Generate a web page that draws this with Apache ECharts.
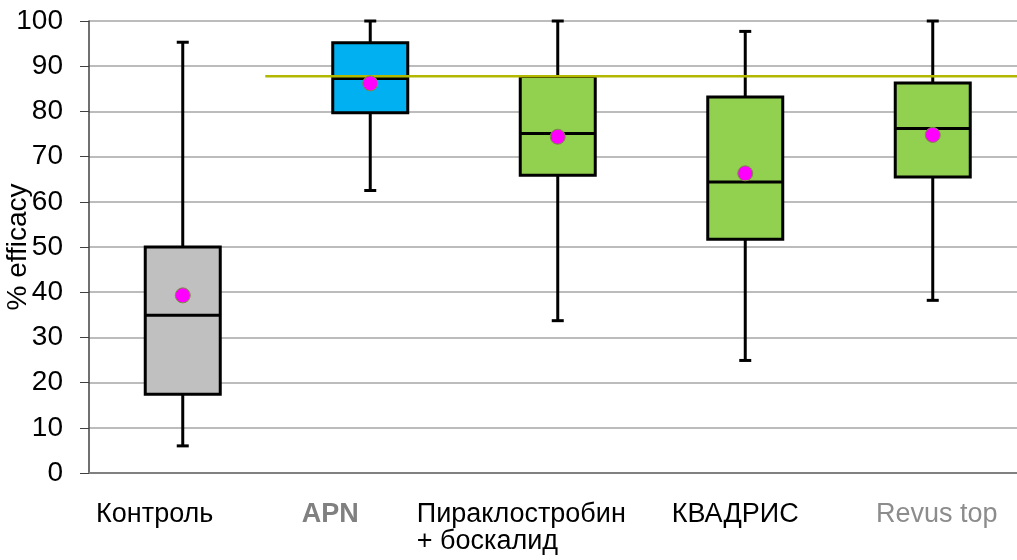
<!DOCTYPE html>
<html>
<head>
<meta charset="utf-8">
<script src="https://cdn.jsdelivr.net/npm/echarts@6/dist/echarts.min.js"></script>
<style>
  html, body { margin: 0; padding: 0; background: #fff; }
  #chart { width: 1017px; height: 560px; }
</style>
</head>
<body>
<div id="chart"></div>
<script>
var categories = ["Контроль", "APN", "Пираклостробин\n+ боскалид", "КВАДРИС", "Revus top"];
var whiskerLow = [6.0, 62.5, 33.7, 24.9, 38.2];
var q1 = [17.4, 79.7, 65.9, 51.7, 65.5];
var median = [34.9, 87.3, 75.1, 64.4, 76.2];
var q3 = [50.0, 95.2, 87.7, 83.2, 86.3];
var whiskerHigh = [95.3, 100, 100, 97.7, 100];
var means = [39.3, 86.2, 74.4, 66.3, 74.8];
var boxColors = ["#c0c0c0", "#00b0f0", "#92d050", "#92d050", "#92d050"];
// reference level, drawn from just left of APN to the right edge
var refLine = [[0.94, 87.8], [5, 87.8]];

// label shifts so they sit where the original ones do
var labelShift = [-28, -40, -38, -10, 4];
var labelColor = ["#000", "#808080", "#000", "#000", "#8c8c8c"];
var labelWeight = ["normal", "bold", "normal", "normal", "normal"];

var rich = {};
categories.forEach(function (c, i) {
  var s = labelShift[i];
  rich["c" + i] = {
    fontSize: 27,
    lineHeight: 27,
    fontFamily: "Liberation Sans",
    color: labelColor[i],
    fontWeight: labelWeight[i],
    padding: s < 0 ? [0, -2 * s, 0, 0] : [0, 0, 0, 2 * s]
  };
});
rich.c2.width = 206;
rich.c2.align = "left";

var boxData = categories.map(function (c, i) {
  return [i, whiskerLow[i], q1[i], median[i], q3[i], whiskerHigh[i]];
});
var meanData = categories.map(function (c, i) {
  return [i, means[i]];
});

function renderBox(params, api) {
  var idx = api.value(0);
  var x = api.coord([idx, 0])[0];
  var band = api.size([1, 0])[0];
  var bw = band * 0.4;
  var cw = band * 0.064;
  var yMin = api.coord([idx, api.value(1)])[1];
  var yQ1 = api.coord([idx, api.value(2)])[1];
  var yMed = api.coord([idx, api.value(3)])[1];
  var yQ3 = api.coord([idx, api.value(4)])[1];
  var yMax = api.coord([idx, api.value(5)])[1];
  var line = { stroke: "#000", lineWidth: 3 };
  return {
    type: "group",
    children: [
      { type: "line", shape: { x1: x, y1: yMin, x2: x, y2: yQ1 }, style: line },
      { type: "line", shape: { x1: x, y1: yQ3, x2: x, y2: yMax }, style: line },
      { type: "line", shape: { x1: x - cw / 2, y1: yMin, x2: x + cw / 2, y2: yMin }, style: line },
      { type: "line", shape: { x1: x - cw / 2, y1: yMax, x2: x + cw / 2, y2: yMax }, style: line },
      {
        type: "rect",
        shape: { x: x - bw / 2, y: yQ3, width: bw, height: yQ1 - yQ3 },
        style: { fill: boxColors[idx], stroke: "#000", lineWidth: 3 }
      },
      { type: "line", shape: { x1: x - bw / 2, y1: yMed, x2: x + bw / 2, y2: yMed }, style: line }
    ]
  };
}

var myChart = echarts.init(document.getElementById("chart"));
var option = {
  animation: false,
  backgroundColor: "#fff",
  grid: {
    left: 89,
    top: 21,
    width: 937.5,
    height: 452,
    containLabel: false,
    outerBoundsMode: "none"
  },
  xAxis: [
    {
      type: "category",
      data: categories,
      axisLine: { lineStyle: { color: "#808080", width: 2 } },
      axisTick: { length: 8, lineStyle: { color: "#404040", width: 1 } },
      axisLabel: {
        margin: 28,
        interval: 0,
        formatter: function (value, index) {
          return value.split("\n").map(function (t) {
            return "{c" + index + "|" + t + "}";
          }).join("\n");
        },
        rich: rich
      },
      splitLine: { show: false }
    },
    {
      type: "value",
      min: 0,
      max: 5,
      show: false
    }
  ],
  yAxis: {
    type: "value",
    min: 0,
    max: 100,
    interval: 10,
    name: "% efficacy",
    nameLocation: "middle",
    nameGap: 57,
    nameMoveOverlap: false,
    nameTextStyle: { fontSize: 28, fontFamily: "Liberation Sans", color: "#000" },
    axisLine: { show: true, lineStyle: { color: "#404040", width: 1.5 } },
    axisTick: { show: true, length: 9, lineStyle: { color: "#404040", width: 1 } },
    axisLabel: { fontSize: 28, fontFamily: "Liberation Sans", color: "#000", margin: 26 },
    splitLine: { lineStyle: { color: "#a6a6a6", width: 1.5 } }
  },
  series: [
    {
      type: "custom",
      renderItem: renderBox,
      data: boxData,
      z: 2
    },
    {
      type: "line",
      xAxisIndex: 1,
      data: refLine,
      symbol: "none",
      lineStyle: { color: "#b2b800", width: 2.5 },
      z: 3
    },
    {
      type: "scatter",
      data: meanData,
      symbolSize: 15,
      itemStyle: { color: "#ff00ff", borderColor: "#77933c", borderWidth: 1, opacity: 1 },
      z: 4
    }
  ]
};
myChart.setOption(option);
</script>
</body>
</html>
